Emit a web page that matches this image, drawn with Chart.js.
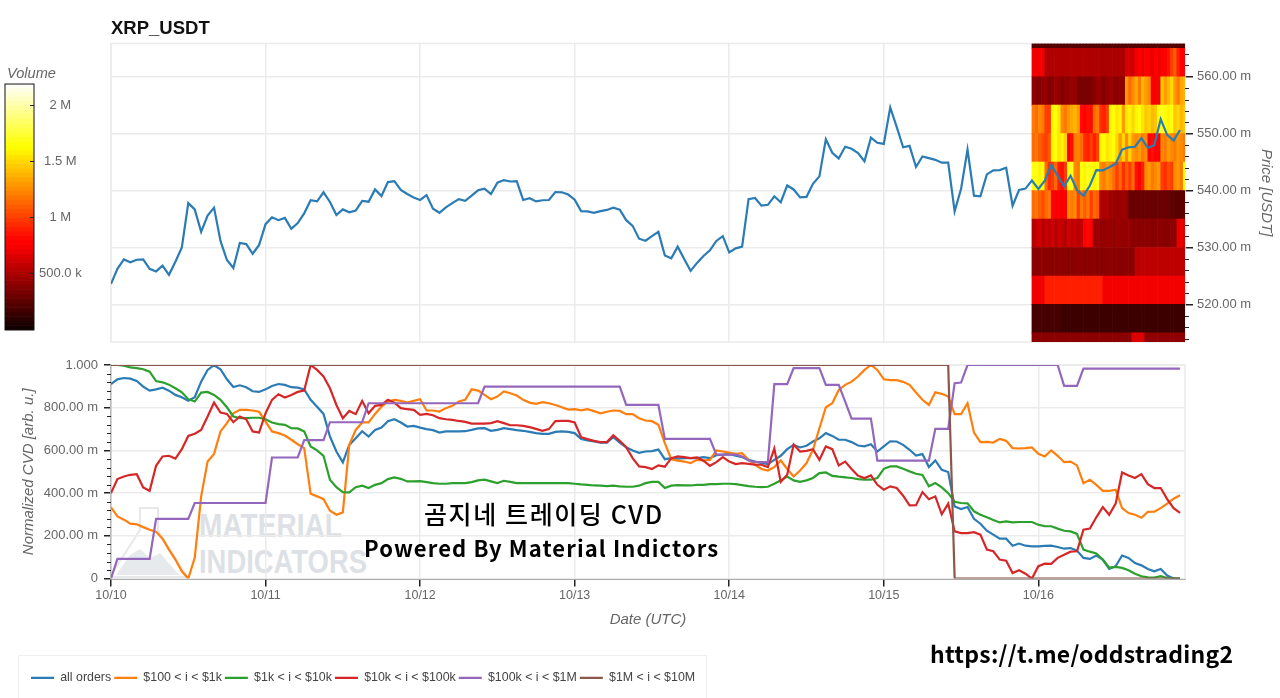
<!DOCTYPE html>
<html>
<head>
<meta charset="utf-8">
<title>XRP_USDT</title>
<script src="https://cdn.jsdelivr.net/npm/chart.js@4/dist/chart.umd.min.js"></script>
<style>
  html, body { margin: 0; width: 1280px; height: 698px; overflow: hidden; background: #fff; }
  canvas, .layer { position: absolute; }
  #legend-box { left: 18px; top: 655px; width: 687px; height: 80px; border: 1px solid #eee; }
  .caption { color: #000; font-family: "Noto Sans CJK KR", sans-serif; font-weight: 500; white-space: nowrap; }
  #caption-ko { left: 424px; top: 496px; font-size: 25px; letter-spacing: 1.6px; line-height: 34px; }
  #caption-en { left: 364px; top: 530px; font-size: 22px; font-weight: 700; letter-spacing: 1.1px; line-height: 34px; }
  #caption-url { left: 930px; top: 635px; font-size: 23px; font-weight: 700; letter-spacing: 0.25px; line-height: 36px; }
</style>
</head>
<body>
<svg id="watermark" class="layer" style="left:0;top:0" width="1280" height="698">
  <g fill="none" stroke="#e6e8ea" stroke-width="2">
    <path d="M140 508 H158 V530 L186 575 Q187 577 184 577 H113 Q110 577 111 575 L140 530 Z"/>
  </g>
  <path d="M116 575 L130 555 L140 549 L150 558 L160 553 L179 575 Z" fill="#e6eaec"/>
  <g fill="#dde1e5" font-family="Liberation Sans" font-weight="700" font-size="33">
    <text x="199" y="537" textLength="143" lengthAdjust="spacingAndGlyphs">MATERIAL</text>
    <text x="199" y="573" textLength="168" lengthAdjust="spacingAndGlyphs">INDICATORS</text>
  </g>
</svg>
<div id="legend-box" class="layer"></div>
<canvas id="price-canvas" width="1280" height="350" style="left:0;top:0"></canvas>
<canvas id="cvd-canvas" width="1280" height="348" style="left:0;top:350px"></canvas>
<canvas id="colorbar-canvas" width="100" height="280" style="left:0;top:60px"></canvas>
<div id="caption-ko" class="layer caption">곰지네 트레이딩 CVD</div>
<div id="caption-en" class="layer caption">Powered By Material Indictors</div>
<div id="caption-url" class="layer caption">https://t.me/oddstrading2</div>
<script>
// values, one point per hour starting 10/10 00:00
const day_labels = ["10/10", "10/11", "10/12", "10/13", "10/14", "10/15", "10/16"];
const series_names = ["all orders", "$100 < i < $1k", "$1k < i < $10k", "$10k < i < $100k", "$100k < i < $1M", "$1M < i < $10M"];

const price = [
  523.6, 526.25, 527.9, 527.4, 527.85, 527.9, 526.25, 525.8, 526.8, 525.2, 527.5, 530, 537.8, 536.7, 532.75, 535.6,
  537, 531.15, 527.8, 526.4, 530.8, 530.6, 528.9, 530.45, 534.1, 535.3, 534.8, 535.2, 533.3, 534.3, 536, 538.3,
  538.1, 539.7, 538, 535.7, 536.7, 536.2, 536.5, 538.2, 538.05, 540.2, 539.05, 541.5, 541.65, 540.1, 539.4, 538.8,
  538.35, 539.2, 536.8, 536.1, 537.05, 537.8, 538.5, 538.2, 539.1, 540.05, 540.35, 539.4, 541.4, 541.85, 541.6, 541.65,
  538.35, 538.65, 538.1, 538.3, 538.35, 539.75, 539.7, 539.3, 538.4, 536.4, 536.35, 536.1, 536.4, 536.6, 537, 536.65,
  534.8, 533.8, 531.55, 531.2, 532, 532.75, 528.6, 528.1, 530.15, 528, 525.9, 527.3, 528.5, 529.5, 531.15, 532,
  529.15, 529.85, 530.15, 538.5, 538.7, 537.35, 537.5, 539, 537.95, 540.9, 540.2, 538.8, 538.9, 541.2, 542.5, 549,
  546.65, 545.65, 547.7, 547.35, 546.6, 545.15, 549.3, 548.4, 548.2, 554.6, 551.2, 547.6, 547.85, 544.15, 546, 545.7,
  545.4, 544.9, 544.9, 536.35, 540.3, 547.2, 539.1, 539, 542.85, 543.55, 543.6, 544, 537.35, 540.1, 540.35, 541.75,
  540.3, 541.75, 544.5, 542.6, 540.75, 542.6, 540.1, 539.1, 540.9, 543.6, 543.55, 544.1, 544.7, 547.2, 547.6, 547.7,
  549.2, 547.5, 548, 552.55, 549.8, 548.8, 550.65,
];

// normalized CVD in thousandths
const all_orders = [
  911, 933, 939, 936, 925, 899, 880, 886, 894, 880, 860, 849, 833, 849, 922, 977, 999, 980, 933, 897,
  905, 896, 877, 874, 886, 902, 911, 907, 896, 894, 886, 837, 805, 771, 665, 595, 544, 626, 657, 690,
  665, 696, 707, 737, 746, 731, 712, 715, 707, 700, 695, 684, 689, 689, 689, 690, 696, 703, 704, 692,
  696, 704, 700, 695, 692, 687, 681, 678, 678, 687, 689, 687, 681, 654, 647, 642, 637, 637, 662, 637,
  615, 600, 589, 595, 597, 604, 559, 564, 562, 564, 564, 564, 569, 564, 578, 580, 583, 575, 569, 556,
  548, 541, 536, 556, 575, 606, 626, 614, 622, 642, 657, 681, 668, 650, 650, 639, 623, 619, 629, 595,
  619, 643, 642, 626, 603, 576, 583, 522, 553, 509, 499, 338, 326, 335, 280, 257, 224, 206, 187, 187,
  154, 164, 154, 151, 151, 153, 154, 148, 140, 143, 131, 97, 92, 108, 89, 45, 58, 108, 97, 73,
  62, 45, 34, 45, 14, 0, 0,
];
const orders_100_1k = [
  333, 291, 276, 257, 254, 241, 229, 220, 187, 136, 89, 34, 0, 97, 385, 548, 584, 689, 728, 774,
  790, 790, 787, 781, 735, 689, 681, 670, 650, 629, 611, 397, 385, 372, 318, 299, 310, 626, 696, 731,
  731, 771, 805, 829, 837, 832, 824, 832, 840, 787, 787, 782, 798, 809, 829, 837, 886, 880, 860, 840,
  852, 876, 868, 857, 837, 824, 818, 826, 821, 813, 802, 791, 793, 788, 793, 784, 774, 781, 787, 785,
  770, 770, 751, 740, 737, 720, 634, 559, 552, 548, 541, 556, 553, 556, 600, 595, 590, 584, 587, 556,
  533, 513, 506, 522, 553, 513, 478, 506, 541, 603, 704, 802, 821, 883, 907, 922, 946, 977, 1000, 977,
  933, 929, 929, 921, 907, 871, 837, 813, 872, 865, 852, 770, 770, 821, 684, 639, 640, 637, 654, 645,
  611, 609, 611, 614, 584, 572, 600, 575, 545, 548, 530, 447, 463, 439, 411, 411, 416, 330, 307, 299,
  285, 312, 313, 330, 351, 374, 390,
];
const orders_1k_10k = [
  1000, 1000, 997, 989, 985, 980, 969, 925, 919, 908, 891, 872, 840, 829, 871, 874, 860, 837, 802, 759,
  751, 751, 753, 753, 746, 731, 723, 720, 704, 703, 689, 619, 600, 575, 463, 428, 405, 404, 428, 435,
  424, 439, 447, 466, 474, 467, 455, 455, 456, 452, 447, 444, 444, 447, 447, 447, 452, 460, 463, 455,
  447, 458, 453, 447, 447, 447, 447, 447, 447, 447, 447, 447, 444, 441, 439, 436, 435, 433, 435, 432,
  430, 430, 435, 447, 453, 453, 424, 435, 438, 436, 436, 439, 439, 442, 442, 444, 444, 442, 438, 433,
  430, 428, 430, 444, 460, 478, 460, 453, 460, 471, 494, 497, 481, 477, 474, 471, 466, 463, 463, 471,
  514, 525, 525, 514, 502, 491, 485, 432, 447, 427, 400, 360, 354, 352, 315, 299, 287, 274, 263, 268,
  263, 265, 265, 265, 252, 246, 245, 234, 224, 221, 209, 136, 126, 118, 89, 51, 55, 50, 39, 23,
  11, 6, 5, 11, 2, 0, 0,
];
const orders_10k_100k = [
  400, 466, 478, 486, 489, 427, 411, 528, 572, 575, 562, 606, 668, 678, 696, 759, 824, 777, 771, 732,
  759, 746, 689, 684, 774, 837, 863, 848, 860, 874, 880, 1000, 977, 946, 891, 813, 751, 785, 770, 832,
  774, 809, 813, 837, 824, 798, 793, 790, 767, 771, 765, 751, 746, 743, 738, 734, 726, 726, 726, 728,
  737, 728, 718, 718, 715, 709, 701, 692, 700, 737, 738, 738, 731, 662, 653, 645, 639, 639, 671, 645,
  615, 564, 525, 522, 513, 530, 524, 564, 572, 569, 564, 567, 552, 528, 545, 569, 548, 536, 541, 537,
  533, 533, 522, 609, 453, 486, 628, 595, 598, 606, 556, 619, 606, 530, 548, 513, 481, 471, 483, 439,
  416, 432, 424, 388, 343, 344, 405, 372, 385, 301, 351, 221, 213, 213, 217, 206, 136, 128, 89, 84,
  26, 39, 23, 0, 58, 70, 69, 97, 112, 126, 128, 229, 234, 287, 335, 299, 351, 497, 483, 471,
  489, 442, 424, 424, 372, 330, 308,
];
const orders_100k_1m = [
  0, 92, 92, 92, 92, 92, 92, 280, 280, 280, 280, 280, 280, 354, 354, 354, 354, 354, 354, 354,
  354, 354, 354, 354, 354, 567, 567, 567, 567, 567, 648, 648, 648, 648, 732, 732, 732, 732, 732, 732,
  821, 821, 821, 821, 821, 821, 821, 821, 821, 821, 821, 821, 821, 821, 821, 821, 821, 821, 899, 899,
  899, 899, 899, 899, 899, 899, 899, 899, 899, 899, 899, 899, 899, 899, 899, 899, 899, 899, 899, 899,
  813, 813, 813, 813, 813, 813, 654, 654, 654, 654, 654, 654, 654, 654, 580, 580, 580, 580, 572, 553,
  545, 545, 545, 910, 910, 910, 985, 985, 985, 985, 985, 907, 907, 907, 829, 749, 749, 749, 749, 552,
  552, 552, 552, 552, 552, 552, 552, 552, 701, 701, 701, 915, 918, 1000, 1000, 1000, 1000, 1000, 1000, 1000,
  1000, 1000, 1000, 1000, 1000, 1000, 1000, 1000, 902, 902, 902, 983, 983, 983, 983, 983, 983, 983, 983, 983,
  983, 983, 983, 983, 983, 983, 983,
];
const orders_1m_10m = [
  1000, 1000, 1000, 1000, 1000, 1000, 1000, 1000, 1000, 1000, 1000, 1000, 1000, 1000, 1000, 1000, 1000, 1000, 1000, 1000,
  1000, 1000, 1000, 1000, 1000, 1000, 1000, 1000, 1000, 1000, 1000, 1000, 1000, 1000, 1000, 1000, 1000, 1000, 1000, 1000,
  1000, 1000, 1000, 1000, 1000, 1000, 1000, 1000, 1000, 1000, 1000, 1000, 1000, 1000, 1000, 1000, 1000, 1000, 1000, 1000,
  1000, 1000, 1000, 1000, 1000, 1000, 1000, 1000, 1000, 1000, 1000, 1000, 1000, 1000, 1000, 1000, 1000, 1000, 1000, 1000,
  1000, 1000, 1000, 1000, 1000, 1000, 1000, 1000, 1000, 1000, 1000, 1000, 1000, 1000, 1000, 1000, 1000, 1000, 1000, 1000,
  1000, 1000, 1000, 1000, 1000, 1000, 1000, 1000, 1000, 1000, 1000, 1000, 1000, 1000, 1000, 1000, 1000, 1000, 1000, 1000,
  1000, 1000, 1000, 1000, 1000, 1000, 1000, 1000, 1000, 1000, 1000, 0, 0, 0, 0, 0, 0, 0, 0, 0,
  0, 0, 0, 0, 0, 0, 0, 0, 0, 0, 0, 0, 0, 0, 0, 0, 0, 0, 0, 0,
  0, 0, 0, 0, 0, 0, 0,
];

// volume heatmap, thousands per half hour cell, top price bin first
const heat_start_hour = 143;
const heat_bin_tops = [565.84, 565, 560, 555, 550, 545, 540, 535, 530, 525, 520, 515];
const heat_bin_bottoms = [565, 560, 555, 550, 545, 540, 535, 530, 525, 520, 515, 513.4];
const heat_565 = [230, 230, 230, 230, 230, 230, 230, 230, 230, 230, 230, 230, 230, 230, 230, 230, 230, 230, 230, 230, 230, 230, 230, 230, 230, 230, 230, 230, 230, 230, 230, 230, 230, 230, 230, 230, 230, 230, 230, 230, 230, 230, 230, 230, 230, 230, 230, 230];
const heat_560 = [720, 720, 720, 720, 520, 520, 510, 520, 520, 510, 520, 520, 530, 520, 510, 520, 520, 520, 510, 520, 520, 500, 500, 510, 500, 500, 500, 500, 500, 640, 640, 620, 720, 760, 700, 800, 740, 700, 760, 720, 800, 780, 860, 1000, 1100, 900, 780, 760];
const heat_555 = [420, 400, 380, 430, 430, 380, 400, 440, 430, 380, 420, 400, 440, 440, 360, 350, 340, 350, 360, 400, 440, 420, 380, 430, 460, 420, 400, 430, 420, 1300, 1150, 1250, 1350, 1200, 1400, 1300, 1250, 740, 740, 740, 1450, 1300, 1400, 1500, 1300, 1200, 1350, 1400];
const heat_550 = [1200, 1150, 1250, 1200, 1000, 1000, 1600, 1650, 1550, 1250, 1200, 1300, 1350, 1400, 1300, 830, 800, 850, 830, 1150, 1200, 950, 900, 1000, 1600, 1650, 1550, 1600, 1300, 1550, 1600, 1500, 1600, 1650, 1550, 1450, 1500, 1400, 1450, 1650, 1700, 1650, 1600, 1650, 1450, 1500, 1400, 1450];
const heat_545 = [1150, 1200, 1100, 1050, 1000, 1100, 1600, 1650, 1550, 1600, 1500, 800, 850, 1200, 1250, 1150, 950, 900, 1000, 900, 1000, 1600, 1650, 1550, 1600, 1650, 1500, 1300, 1500, 1250, 1500, 1300, 1250, 1300, 1200, 1250, 800, 850, 780, 800, 1250, 1200, 1300, 1250, 1200, 1300, 1250, 1200];
const heat_540 = [1650, 1700, 1600, 1650, 1150, 950, 1000, 1150, 900, 850, 1000, 1650, 1700, 1250, 1200, 1650, 1600, 1700, 1650, 1600, 1650, 1250, 1200, 1300, 1250, 1150, 1000, 1150, 950, 1100, 1000, 1150, 850, 800, 900, 1250, 1300, 1200, 1250, 1300, 1000, 950, 1050, 1000, 1250, 1300, 1200, 1650];
const heat_535 = [1150, 1200, 1100, 1050, 1150, 1200, 760, 740, 780, 740, 760, 1250, 1200, 1250, 1000, 1200, 1100, 1200, 1000, 1150, 1100, 520, 500, 530, 450, 460, 440, 450, 460, 440, 300, 290, 310, 300, 290, 300, 310, 300, 290, 300, 310, 300, 290, 260, 260, 250, 260, 260];
const heat_530 = [540, 580, 620, 520, 600, 560, 620, 540, 600, 580, 520, 620, 560, 600, 540, 580, 800, 820, 780, 440, 450, 430, 440, 450, 440, 430, 450, 440, 430, 440, 440, 400, 410, 400, 390, 410, 400, 390, 400, 410, 400, 390, 400, 410, 400, 680, 700, 660];
const heat_525 = [400, 390, 410, 420, 400, 410, 390, 400, 420, 400, 410, 390, 400, 410, 420, 400, 390, 410, 400, 420, 400, 390, 410, 400, 420, 400, 410, 390, 400, 410, 400, 390, 560, 560, 560, 560, 560, 560, 560, 560, 560, 560, 560, 560, 560, 560, 560, 560];
const heat_520 = [720, 720, 720, 720, 900, 900, 900, 900, 900, 900, 900, 900, 900, 900, 900, 900, 900, 900, 900, 900, 900, 900, 730, 730, 730, 730, 730, 730, 730, 730, 730, 730, 730, 730, 730, 730, 730, 730, 730, 730, 730, 730, 730, 730, 730, 730, 730, 730];
const heat_515 = [190, 190, 190, 190, 190, 190, 190, 190, 190, 160, 160, 160, 160, 160, 160, 160, 160, 160, 160, 160, 160, 160, 160, 160, 160, 160, 160, 160, 160, 160, 160, 160, 160, 160, 160, 160, 160, 160, 160, 160, 160, 160, 160, 160, 160, 160, 160, 160];
const heat_513 = [400, 400, 400, 400, 400, 400, 400, 400, 400, 400, 400, 400, 400, 400, 400, 400, 400, 400, 400, 400, 400, 400, 400, 400, 400, 400, 400, 400, 400, 400, 400, 660, 660, 660, 660, 420, 420, 420, 420, 420, 420, 420, 420, 420, 420, 420, 420, 420];
const heat_rows = [heat_565, heat_560, heat_555, heat_550, heat_545, heat_540, heat_535, heat_530, heat_525, heat_520, heat_515, heat_513];

const colorbar_levels = [
  0, 40, 80, 120, 160, 200, 240, 280, 320, 360, 400, 440, 480, 520, 560, 600, 640, 680, 720, 760,
  800, 840, 880, 920, 960, 1000, 1040, 1080, 1120, 1160, 1200, 1240, 1280, 1320, 1360, 1400, 1440, 1480, 1520, 1560,
  1600, 1640, 1680, 1720, 1760, 1800, 1840, 1880, 1920, 1960, 2000, 2040, 2080, 2120, 2160, 2190,
];
const colorbar_ticks = [500, 1000, 1500, 2000];
const price_minor_ticks = [514, 516, 518, 522, 524, 526, 528, 532, 534, 536, 538, 542, 544, 546, 548, 552, 554, 556, 558, 562, 564];
const cvd_minor_ticks = [40, 80, 120, 160, 240, 280, 320, 360, 440, 480, 520, 560, 640, 680, 720, 760, 840, 880, 920, 960];

const COLORS = ["#2b7bb5", "#ff7f0e", "#2ca02c", "#d62728", "#9467bd", "#8c564b"];
const GRID = "#ebebeb";
const INK = "#222";
const LABEL = "#666";
const FONT = "'Liberation Sans', Arial, sans-serif";
const X_MAX = 166.77;

Chart.defaults.animation = false;
Chart.defaults.font.family = FONT;
Chart.defaults.font.size = 12;
Chart.defaults.color = LABEL;
Chart.defaults.plugins.tooltip.enabled = false;

const hotColor = (volume) => {
  const t = volume / 2190;
  const clamp = (v) => Math.round(Math.max(0, Math.min(1, v)) * 255);
  return `rgb(${clamp(t / 0.365 + 0.04)},${clamp((t - 0.365) / 0.381)},${clamp((t - 0.746) / 0.254)})`;
};

const toPoints = (values) => values.map((y, x) => ({ x: x, y: y }));

const heatCells = () => {
  const cells = [];
  heat_rows.forEach((row, r) => {
    row.forEach((volume, c) => {
      cells.push({
        x: heat_start_hour + 0.25 + c * 0.5,
        y: [heat_bin_bottoms[r], heat_bin_tops[r]],
        volume: volume,
      });
    });
  });
  return cells;
};

const colorbarCells = () =>
  colorbar_levels.slice(0, -1).map((level, i) => ({
    x: 0.5,
    y: [level, colorbar_levels[i + 1]],
    volume: (level + colorbar_levels[i + 1]) / 2,
  }));

// tick labels must not push the plot area around, its edges are fixed by the layout padding
const fixWidth = (width) => (scale) => {
  scale.width = width;
  scale.paddingTop = 0;
  scale.paddingBottom = 0;
};
const fixHeight = (height) => (scale) => {
  scale.height = height;
  scale.paddingLeft = 0;
  scale.paddingRight = 0;
};

// Chart.js has no minor ticks, so these go on top through the y scale
const minorTicks = (scale_id, values, direction) => ({
  id: "minorTicks",
  afterDraw: (chart) => {
    const scale = chart.scales[scale_id];
    const edge = direction > 0 ? chart.chartArea.right : chart.chartArea.left;
    const ctx = chart.ctx;
    ctx.save();
    ctx.strokeStyle = INK;
    ctx.lineWidth = 1;
    ctx.beginPath();
    values.forEach((value) => {
      const y = Math.round(scale.getPixelForValue(value)) + 0.5;
      ctx.moveTo(edge, y);
      ctx.lineTo(edge + direction * 4, y);
    });
    ctx.stroke();
    ctx.restore();
  },
});

const frame = (color) => ({
  id: "frame",
  beforeDatasetsDraw: (chart) => {
    const { left, top, width, height } = chart.chartArea;
    const ctx = chart.ctx;
    ctx.save();
    ctx.strokeStyle = color;
    ctx.lineWidth = 1.5;
    ctx.strokeRect(left, top, width, height);
    ctx.restore();
  },
});

// the bokeh legend sits indented, chart.js would pin it to the canvas edge
const moveLegend = {
  id: "moveLegend",
  afterLayout: (chart) => {
    chart.legend.left = 28;
  },
};

new Chart(document.getElementById("price-canvas"), {
  type: "line",
  data: {
    datasets: [
      {
        data: toPoints(price),
        borderColor: COLORS[0],
        borderWidth: 2.2,
        pointRadius: 0,
        tension: 0,
        order: 0,
      },
      {
        type: "bar",
        data: heatCells(),
        backgroundColor: (ctx) => (ctx.raw ? hotColor(ctx.raw.volume) : "transparent"),
        borderWidth: 0,
        barPercentage: 1,
        categoryPercentage: 1,
        order: 1,
      },
    ],
  },
  options: {
    responsive: false,
    layout: { padding: { left: 111, bottom: 8 } },
    plugins: {
      legend: { display: false },
      title: {
        display: true,
        text: "XRP_USDT",
        align: "start",
        fullSize: false,
        color: "#111",
        font: { size: 18.5, weight: "bold" },
        padding: { top: 18, bottom: 3.3 },
      },
    },
    scales: {
      x: {
        type: "linear",
        min: 0,
        max: X_MAX,
        offset: false,
        ticks: { display: false, stepSize: 24, includeBounds: false },
        grid: { color: GRID, lineWidth: 1.5, drawTicks: false, offset: false },
        border: { display: false },
        afterFit: fixHeight(0),
      },
      y: {
        position: "right",
        min: 513.4,
        max: 565.84,
        ticks: {
          stepSize: 10,
          includeBounds: false,
          padding: 4,
          font: { size: 13 },
          callback: (value) => value.toFixed(2) + " m",
        },
        grid: { color: GRID, lineWidth: 1.5, tickColor: INK, tickLength: 8 },
        border: { display: false },
        title: {
          display: true,
          text: "Price [USDT]",
          font: { size: 15, style: "italic" },
          padding: { top: 5, bottom: 0 },
        },
        afterFit: fixWidth(95),
      },
    },
  },
  plugins: [frame(GRID), minorTicks("y", price_minor_ticks, 1)],
});

new Chart(document.getElementById("cvd-canvas"), {
  type: "line",
  data: {
    datasets: [all_orders, orders_100_1k, orders_1k_10k, orders_10k_100k, orders_100k_1m, orders_1m_10m].map(
      (values, i) => ({
        label: series_names[i],
        data: toPoints(values),
        borderColor: COLORS[i],
        backgroundColor: COLORS[i],
        borderWidth: 2.2,
        pointRadius: 0,
        tension: 0,
        order: -i,
      })
    ),
  },
  options: {
    responsive: false,
    layout: { padding: { top: 15, right: 95, bottom: 4 } },
    plugins: {
      legend: {
        position: "bottom",
        align: "start",
        labels: {
          usePointStyle: true,
          pointStyle: "line",
          pointStyleWidth: 23,
          padding: 3,
          color: "#444",
          font: { size: 12.4 },
          sort: (a, b) => a.datasetIndex - b.datasetIndex,
        },
      },
    },
    scales: {
      x: {
        type: "linear",
        min: 0,
        max: X_MAX,
        ticks: {
          stepSize: 24,
          includeBounds: false,
          maxRotation: 0,
          padding: 1,
          font: { size: 12.5 },
          callback: (value) => day_labels[value / 24],
        },
        grid: { color: GRID, lineWidth: 1.5, tickColor: INK, tickLength: 8 },
        border: { color: INK, width: 1.5 },
        title: {
          display: true,
          text: "Date (UTC)",
          font: { size: 15, style: "italic" },
          padding: { top: 0, bottom: 40 },
        },
        afterFit: fixHeight(90),
      },
      y: {
        min: 0,
        max: 1000,
        ticks: {
          stepSize: 200,
          padding: 6,
          font: { size: 13 },
          callback: (value) => {
            if (value === 1000) return "1.000";
            if (value === 0) return "0";
            return value.toFixed(2) + " m";
          },
        },
        grid: { color: GRID, lineWidth: 1.5, tickColor: INK, tickLength: 7 },
        border: { color: INK, width: 1.5 },
        title: {
          display: true,
          text: "Normalized CVD [arb. u.]",
          font: { size: 15, style: "italic" },
          padding: { top: 20, bottom: 0 },
        },
        afterFit: fixWidth(111),
      },
    },
  },
  plugins: [frame(GRID), minorTicks("y", cvd_minor_ticks, -1), moveLegend],
});

new Chart(document.getElementById("colorbar-canvas"), {
  type: "bar",
  data: {
    datasets: [
      {
        data: colorbarCells(),
        backgroundColor: (ctx) => (ctx.raw ? hotColor(ctx.raw.volume) : "transparent"),
        borderWidth: 0,
        barThickness: 29,
      },
    ],
  },
  options: {
    responsive: false,
    layout: { padding: { left: 5, bottom: 10 } },
    plugins: {
      legend: { display: false },
      title: {
        display: true,
        text: "Volume",
        align: "start",
        font: { size: 14.6, style: "italic", weight: "normal" },
        padding: { top: 5, bottom: 1.5 },
      },
    },
    scales: {
      x: { type: "linear", min: 0, max: 1, offset: false, display: false },
      y: {
        position: "right",
        min: 0,
        max: 2190,
        afterBuildTicks: (scale) => {
          scale.ticks = colorbar_ticks.map((value) => ({ value: value }));
        },
        ticks: {
          crossAlign: "center",
          padding: 9,
          font: { size: 13 },
          callback: (value) => (value === 500 ? "500.0 k" : value / 1000 + " M"),
        },
        grid: { drawOnChartArea: false, tickColor: INK, tickLength: -4, z: 1 },
        border: { display: false },
        afterFit: fixWidth(66),
      },
    },
  },
  plugins: [
    {
      id: "barOutline",
      afterLayout: (chart) => {
        chart.titleBlock.left = 7;
      },
      afterDraw: (chart) => {
        const { left, top, width, height } = chart.chartArea;
        chart.ctx.save();
        chart.ctx.strokeStyle = "#111";
        chart.ctx.strokeRect(left, top, width, height);
        chart.ctx.restore();
      },
    },
  ],
});
</script>
</body>
</html>
